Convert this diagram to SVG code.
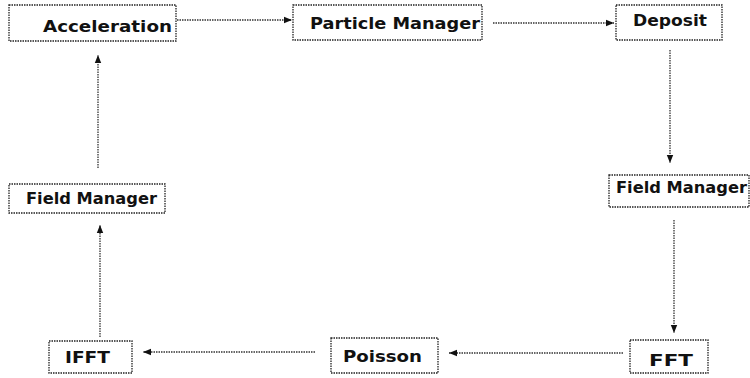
<svg xmlns="http://www.w3.org/2000/svg" width="750" height="378" viewBox="0 0 750 378">
<style>
.box{fill:#fff;stroke:#222;stroke-width:1.3;stroke-dasharray:1.5 1}
.lbl{font-family:"DejaVu Sans","Liberation Sans",Arial,sans-serif;font-weight:bold;fill:#111}
.big{font-size:16.5px}
.sm{font-size:15px}
.con{fill:none;stroke:#333;stroke-width:1.3;stroke-dasharray:1.5 1;marker-end:url(#ah)}
</style>
<defs>
<marker id="ah" viewBox="0 0 10 10" refX="10" refY="5" markerWidth="10" markerHeight="8" markerUnits="userSpaceOnUse" orient="auto">
<path d="M0,1 L10,5 L0,9 z" fill="#111"/>
</marker>
</defs>
<rect width="750" height="378" fill="#fff"/>
<g id="connectors">
<line class="con" x1="177" y1="20" x2="292" y2="20"/>
<line class="con" x1="493" y1="23" x2="614" y2="23"/>
<line class="con" x1="670" y1="50" x2="670" y2="163"/>
<line class="con" x1="674" y1="220" x2="674" y2="333"/>
<line class="con" x1="623" y1="353" x2="449" y2="353"/>
<line class="con" x1="315" y1="352" x2="143" y2="352"/>
<line class="con" x1="100" y1="337" x2="100" y2="225"/>
<line class="con" x1="98" y1="168" x2="98" y2="55"/>
</g>
<g id="acceleration">
<rect class="box" x="9" y="5" width="167" height="36"/>
<text class="lbl big" x="43" y="32" textLength="129" lengthAdjust="spacingAndGlyphs">Acceleration</text>
</g>
<g id="particle-manager">
<rect class="box" x="293" y="5" width="189" height="35"/>
<text class="lbl big" x="310" y="29" textLength="170" lengthAdjust="spacingAndGlyphs">Particle Manager</text>
</g>
<g id="deposit">
<rect class="box" x="616" y="5" width="106" height="35"/>
<text class="lbl sm" x="633" y="26" textLength="74" lengthAdjust="spacingAndGlyphs">Deposit</text>
</g>
<g id="field-manager-right">
<rect class="box" x="609" y="175" width="140" height="32"/>
<text class="lbl sm" x="616" y="193" textLength="131" lengthAdjust="spacingAndGlyphs">Field Manager</text>
</g>
<g id="fft">
<rect class="box" x="630" y="340" width="78" height="33"/>
<text class="lbl sm" x="649" y="366" textLength="44" lengthAdjust="spacingAndGlyphs">FFT</text>
</g>
<g id="poisson">
<rect class="box" x="331" y="338" width="107" height="35"/>
<text class="lbl sm" x="343" y="362" textLength="79" lengthAdjust="spacingAndGlyphs">Poisson</text>
</g>
<g id="ifft">
<rect class="box" x="49" y="341" width="83" height="32"/>
<text class="lbl sm" x="65" y="363" textLength="45" lengthAdjust="spacingAndGlyphs">IFFT</text>
</g>
<g id="field-manager-left">
<rect class="box" x="9" y="184" width="156" height="29"/>
<text class="lbl sm" x="26" y="204" textLength="131" lengthAdjust="spacingAndGlyphs">Field Manager</text>
</g>
</svg>
